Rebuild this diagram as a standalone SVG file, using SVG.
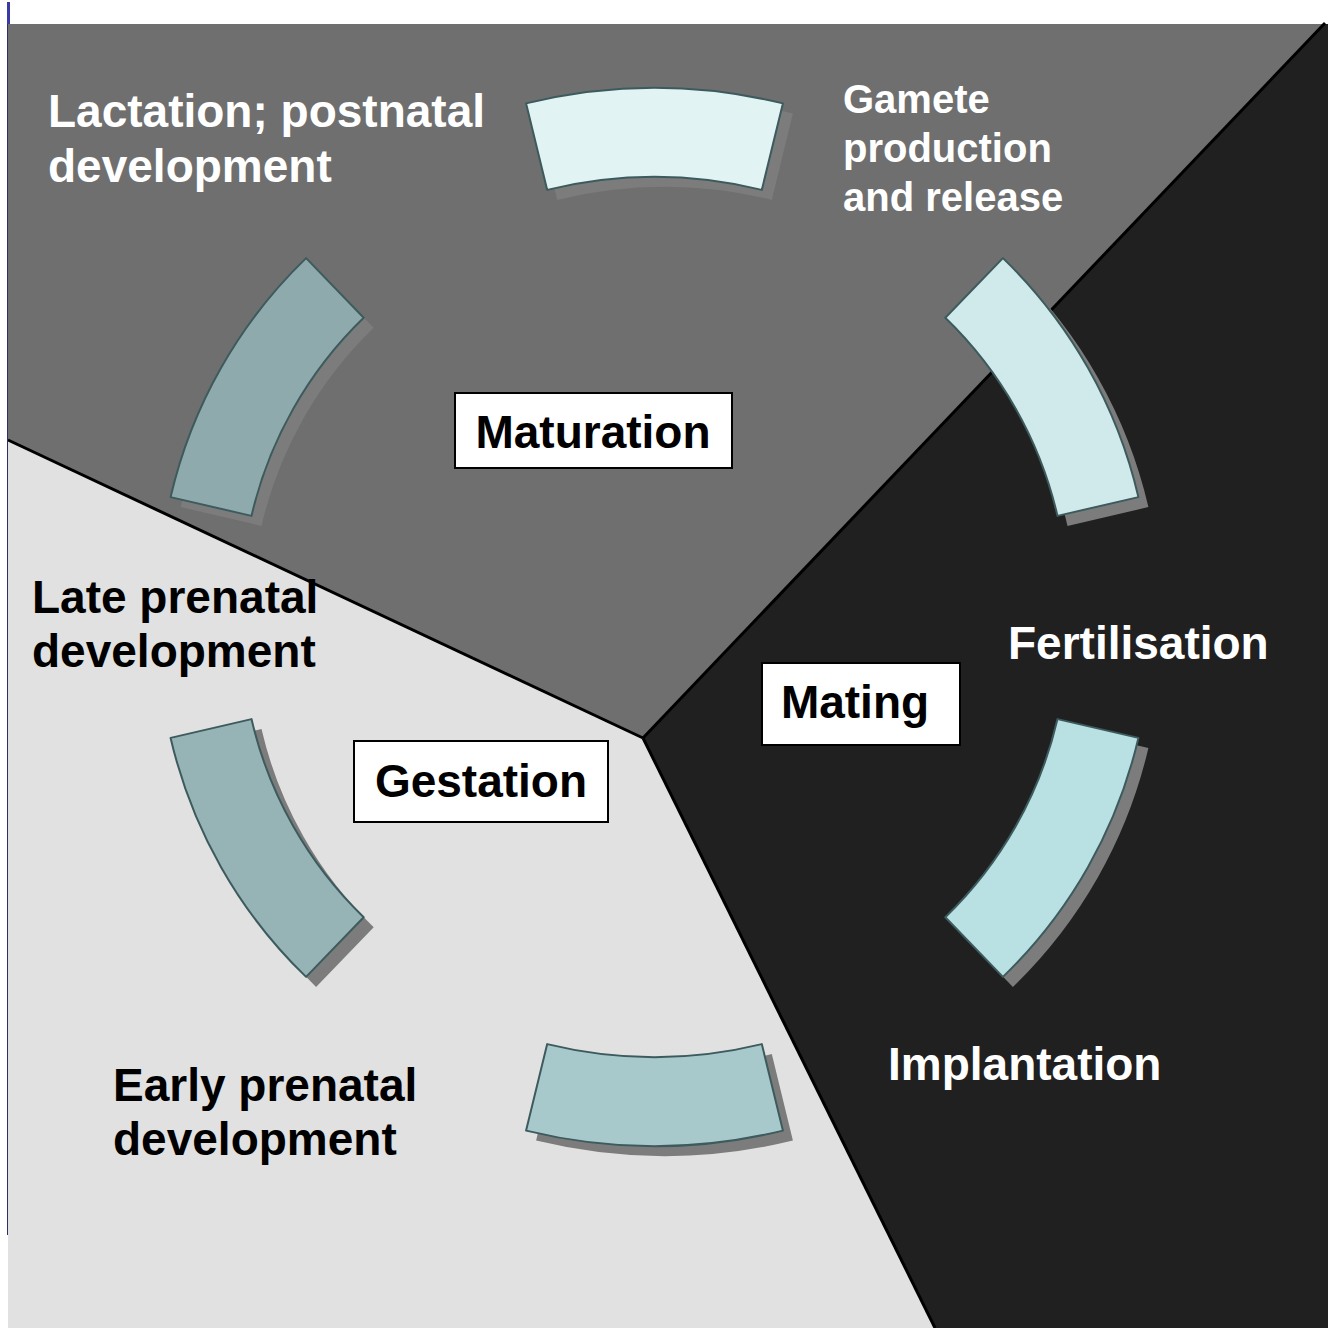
<svg xmlns="http://www.w3.org/2000/svg" width="1328" height="1328" viewBox="0 0 1328 1328">
<style>
.lbl{font-family:"Liberation Sans",Arial,sans-serif;font-weight:bold;font-size:46px;fill:#ffffff}
.dark{fill:#000000}
.blbl{font-family:"Liberation Sans",Arial,sans-serif;font-weight:bold;font-size:46px;fill:#000000;text-anchor:middle}
.small{font-size:40px}
.shadow{fill:#7c7c7c;stroke:none}
.seg{stroke:#3d5b5d;stroke-width:2;stroke-linejoin:round}
.box{fill:#ffffff;stroke:#000000;stroke-width:2}
.edge{stroke:#000000;stroke-width:3;fill:none}
</style>
<defs>
<path id="pTop" d="M526.1,103.4 A542,542 0 0 1 782.9,103.4 L761.8,189.9 A453,453 0 0 0 547.2,189.9 Z"/>
<path id="pUR" d="M1002.9,258.1 A485,485 0 0 1 1138.4,497.1 L1057.5,515.9 A402,402 0 0 0 945.3,317.8 Z"/>
<path id="pLR" d="M1138.4,737.9 A485,485 0 0 1 1002.9,976.9 L945.3,917.2 A402,402 0 0 0 1057.5,719.1 Z"/>
<path id="pBot" d="M547.2,1044.1 A453,453 0 0 0 761.8,1044.1 L782.9,1130.6 A542,542 0 0 1 526.1,1130.6 Z"/>
<path id="pLL" d="M306.1,976.9 A485,485 0 0 1 170.6,737.9 L251.5,719.1 A402,402 0 0 0 363.7,917.2 Z"/>
<path id="pUL" d="M170.6,497.1 A485,485 0 0 1 306.1,258.1 L363.7,317.8 A402,402 0 0 0 251.5,515.9 Z"/>
</defs>
<rect x="0" y="0" width="1328" height="1328" fill="#ffffff"/>
<g id="regions">
<rect x="8" y="24" width="1320" height="1304" fill="#e1e1e1"/>
<polygon points="8,24 1324,24 643,738 8,440" fill="#6f6f6f"/>
<polygon points="1324,24 1328,24 1328,1328 935,1328 643,738" fill="#202020"/>
</g>
<g id="boundaries">
<line class="edge" x1="643" y1="738" x2="1325" y2="23"/>
<line class="edge" x1="643" y1="738" x2="8" y2="440"/>
<line class="edge" x1="643" y1="738" x2="935" y2="1328"/>
</g>
<g id="leftbar">
<rect x="7" y="2" width="3" height="22" fill="#3a3aa6"/>
<line x1="7.5" y1="24" x2="7.5" y2="1235" stroke="#2e2e6e" stroke-width="1"/>
</g>
<g id="seg-top"><use href="#pTop" class="shadow" transform="translate(10,10)"/><use href="#pTop" class="seg" fill="#e2f3f3"/></g>
<g id="seg-upper-right"><use href="#pUR" class="shadow" transform="translate(10,10)"/><use href="#pUR" class="seg" fill="#d0eaeb"/></g>
<g id="seg-lower-right"><use href="#pLR" class="shadow" transform="translate(10,10)"/><use href="#pLR" class="seg" fill="#b9e0e3"/></g>
<g id="seg-bottom"><use href="#pBot" class="shadow" transform="translate(10,10)"/><use href="#pBot" class="seg" fill="#a8c9cc"/></g>
<g id="seg-lower-left"><use href="#pLL" class="shadow" transform="translate(10,10)"/><use href="#pLL" class="seg" fill="#96b4b6"/></g>
<g id="seg-upper-left"><use href="#pUL" class="shadow" transform="translate(10,10)"/><use href="#pUL" class="seg" fill="#8eaaac"/></g>
<g id="label-lactation"><text class="lbl" x="48" y="127">Lactation; postnatal</text><text class="lbl" x="48" y="182">development</text></g>
<g id="label-gamete"><text class="lbl small" x="843" y="113">Gamete</text><text class="lbl small" x="843" y="162">production</text><text class="lbl small" x="843" y="211">and release</text></g>
<g id="label-fertilisation"><text class="lbl" x="1008" y="659">Fertilisation</text></g>
<g id="label-implantation"><text class="lbl" x="888" y="1080">Implantation</text></g>
<g id="label-early"><text class="lbl dark" x="113" y="1101">Early prenatal</text><text class="lbl dark" x="113" y="1155">development</text></g>
<g id="label-late"><text class="lbl dark" x="32" y="613">Late prenatal</text><text class="lbl dark" x="32" y="667">development</text></g>
<g id="box-maturation"><rect class="box" x="455" y="393" width="277" height="75"/><text class="blbl" x="593" y="448">Maturation</text></g>
<g id="box-mating"><rect class="box" x="762" y="663" width="198" height="82"/><text class="blbl" x="855" y="718">Mating</text></g>
<g id="box-gestation"><rect class="box" x="354" y="741" width="254" height="81"/><text class="blbl" x="481" y="797">Gestation</text></g>
</svg>
